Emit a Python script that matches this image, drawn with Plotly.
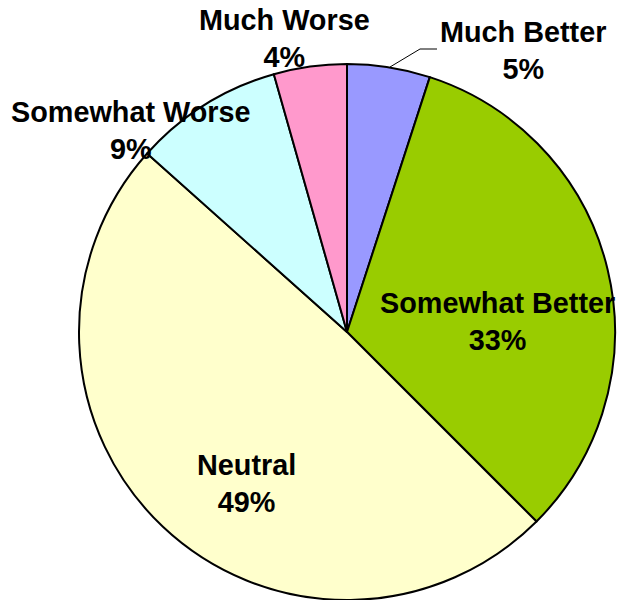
import plotly.graph_objects as go

categories = ["Much Better", "Somewhat Better", "Neutral", "Somewhat Worse", "Much Worse"]
values = [5.0, 32.5, 49.1, 9.0, 4.4]
pct_labels = ["5%", "33%", "49%", "9%", "4%"]
colors = ["#9999FF", "#99CC00", "#FFFFCC", "#CCFFFF", "#FF99CC"]

W, H = 622, 600
cx, cy, r = 347, 332, 268

fig = go.Figure(go.Pie(
    labels=categories, values=values, sort=False, direction="clockwise", rotation=0,
    marker=dict(colors=colors, line=dict(color="black", width=2)),
    textinfo="none", hoverinfo="label+percent", showlegend=False,
    domain=dict(x=[(cx - r) / W, (cx + r) / W], y=[(H - cy - r) / H, (H - cy + r) / H]),
))

label_pos = [(523, 50), (497, 321), (247, 483), (131, 131), (284, 38)]
for cat, pct, (px, py) in zip(categories, pct_labels, label_pos):
    fig.add_annotation(
        x=px / W, y=1 - py / H, xref="paper", yref="paper",
        text=f"{cat}<br>{pct}", showarrow=False, align="center",
        font=dict(family="Arial, Liberation Sans, sans-serif", size=28.8, color="black", weight="bold"),
        xanchor="center", yanchor="middle",
    )

# leader line for Much Better
fig.add_shape(type="path", xref="paper", yref="paper",
              path=f"M {390/W} {1-67/H} L {420/W} {1-49/H} L {437/W} {1-49/H}",
              line=dict(color="black", width=1))

fig.update_layout(width=W, height=H, margin=dict(l=0, r=0, t=0, b=0),
                  paper_bgcolor="white", plot_bgcolor="white")
fig.write_html("out.html", config={"displayModeBar": False},
               post_script="document.body.style.margin='0';document.body.style.overflow='hidden';")
